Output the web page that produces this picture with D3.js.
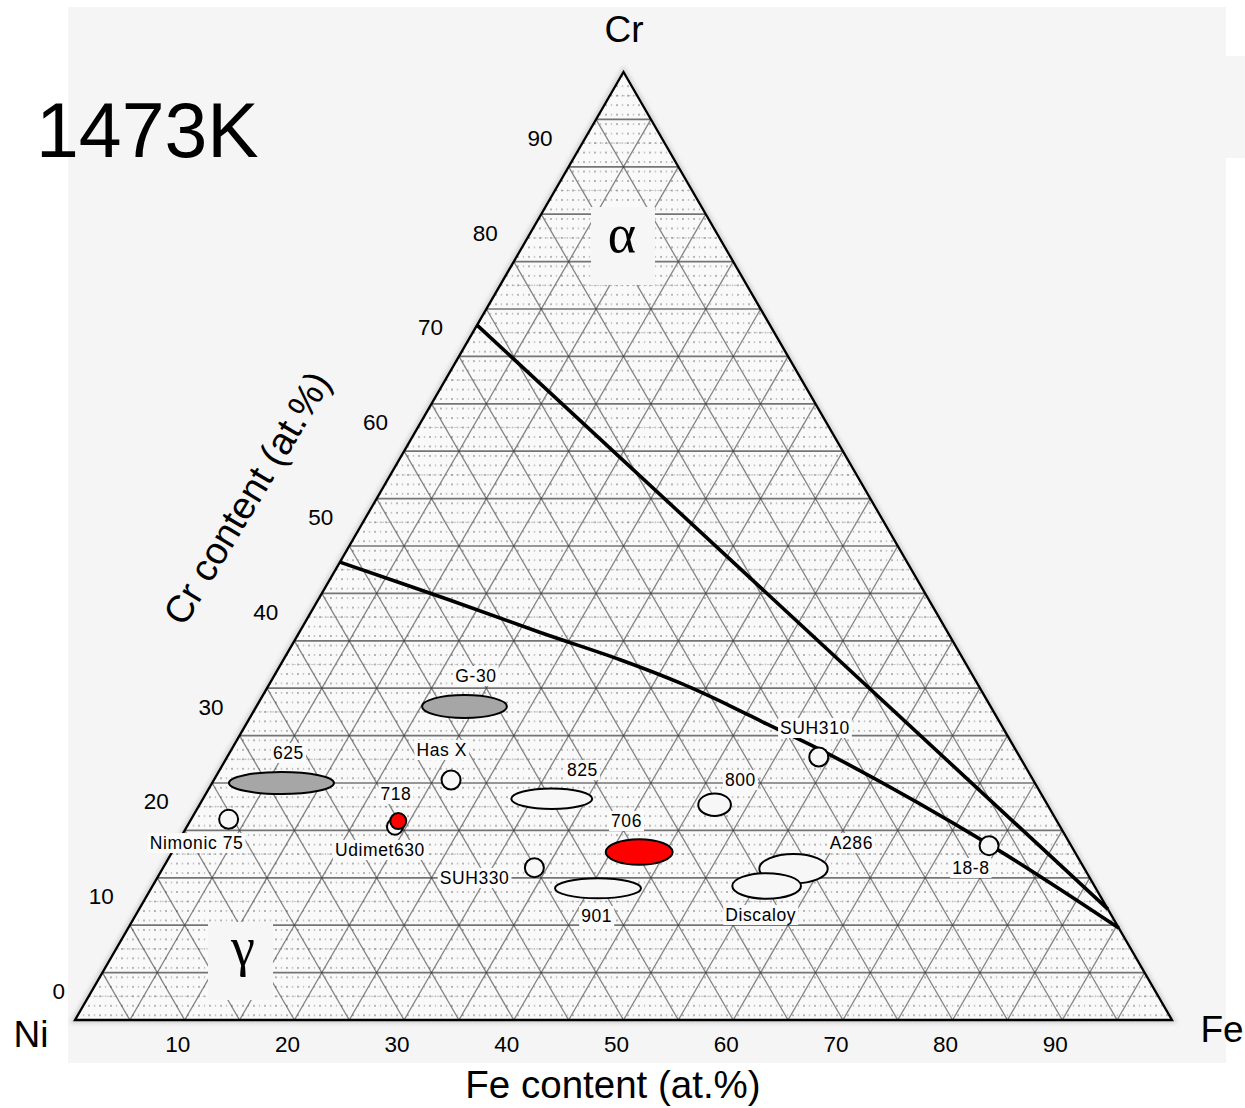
<!DOCTYPE html>
<html>
<head>
<meta charset="utf-8">
<script src="https://cdn.jsdelivr.net/npm/d3@7/dist/d3.min.js"></script>
<style>
  body { margin: 0; background: #ffffff; }
  svg { display: block; font-family: Arial, "Liberation Sans", sans-serif; }
</style>
</head>
<body>
<svg id="chart" width="1245" height="1108"></svg>
<script>
// Ni–Cr–Fe ternary section at 1473 K, compositions in at.%
const feTicks = [10, 20, 30, 40, 50, 60, 70, 80, 90];
const crTicks = [0, 10, 20, 30, 40, 50, 60, 70, 80, 90];

// Phase boundaries as [Fe, Cr] pairs
const alphaBoundary = [[0, 73.3], [88.3, 11.7]];
const gammaBoundary = [[0, 48.3], [12.0, 44.3], [21.9, 40.9], [30.7, 38.0], [37.5, 35.5],
                       [43.0, 33.2], [47.5, 31.2], [54.8, 28.0], [74.1, 18.5], [90.3, 9.7]];

// Alloys given as a composition range: centre and half-width in Fe and Cr
const rangeNames = ["G-30", "625", "825", "706", "901", "800", "A286", "Discaloy"];
const rangeFe    = [18.97, 6.32, 31.79, 42.57, 40.73, 46.95, 57.52, 55.98];
const rangeCr    = [33.07, 25.00, 23.34, 17.72, 13.89, 22.71, 15.96, 14.14];
const rangeDFe   = [3.87, 4.79, 3.69, 3.05, 3.92, 1.49, 3.12, 3.13];
const rangeDCr   = [1.21, 1.16, 1.09, 1.35, 1.05, 1.19, 1.55, 1.35];
const rangeGroup = ["shaded", "shaded", "plain", "highlight", "plain", "plain", "plain", "plain"];

// Alloys given as a single composition
const pointNames = ["Has X", "Nimonic 75", "Udimet630", "718", "SUH330", "SUH310", "18-8"];
const pointFe    = [21.62, 3.42, 18.97, 18.97, 33.84, 53.93, 74.13];
const pointCr    = [25.32, 21.17, 20.39, 20.99, 16.07, 27.74, 18.39];
const pointGroup = ["plain", "plain", "plain", "highlight", "plain", "plain", "plain"];

const svg = d3.select("#chart");

const fillOf = d3.scaleOrdinal()
  .domain(["plain", "shaded", "highlight"])
  .range(["#f7f7f7", "#a6a6a6", "#ff0000"]);

// Ternary projection: Fe along the base, Cr towards the apex, Ni at the left corner
const xS = d3.scaleLinear().domain([0, 100]).range([75, 1172]);
const yS = d3.scaleLinear().domain([0, 100]).range([1020, 72]);
const px = (fe, cr) => xS(fe + cr / 2);
const py = (cr) => yS(cr);

// Page background panels
svg.append("rect").attr("x", 68).attr("y", 7).attr("width", 1158).attr("height", 1056).attr("fill", "#f5f5f5");
svg.append("rect").attr("x", 1226).attr("y", 56).attr("width", 19).attr("height", 102).attr("fill", "#f5f5f5");

const defs = svg.append("defs");
defs.append("filter").attr("id", "soft").attr("x", "-5%").attr("y", "-5%").attr("width", "110%").attr("height", "110%")
  .append("feGaussianBlur").attr("stdDeviation", 0.75);
defs.append("filter").attr("id", "haze").attr("x", "-5%").attr("y", "-5%").attr("width", "110%").attr("height", "110%")
  .append("feGaussianBlur").attr("stdDeviation", 2.2);

const dots = defs.append("pattern").attr("id", "dots")
  .attr("patternUnits", "userSpaceOnUse").attr("width", 11).attr("height", 9.48)
  .attr("x", 75).attr("y", 72);
dots.append("circle").attr("cx", 3).attr("cy", 4.7).attr("r", 1).attr("fill", "#9c9c9c");
dots.append("circle").attr("cx", 8.5).attr("cy", 4.7).attr("r", 0.8).attr("fill", "#b8b8b8");

const corners = [[0, 0], [100, 0], [0, 100]].map(([fe, cr]) => [px(fe, cr), py(cr)]);
const triPath = "M" + corners.map(c => c.join(",")).join("L") + "Z";

defs.append("clipPath").attr("id", "tri").append("path").attr("d", triPath);

// Soft fringe around the grid plate
svg.append("path").attr("d", triPath).attr("fill", "none").attr("stroke", "#cfcfcf")
  .attr("stroke-width", 6).attr("filter", "url(#haze)");

// Triangle face and texture
svg.append("path").attr("d", triPath).attr("fill", "#f9f9f9");
const gridG = svg.append("g").attr("filter", "url(#soft)");
gridG.append("path").attr("d", triPath).attr("fill", "url(#dots)");

// 5 % triangular grid
const gridLines = [];
for (let v = 5; v < 100; v += 5) {
  gridLines.push({ a: [0, v], b: [100 - v, v], horiz: true });
  gridLines.push({ a: [v, 0], b: [v, 100 - v] });
  gridLines.push({ a: [100 - v, 0], b: [0, 100 - v] });
}
gridG.append("g").attr("clip-path", "url(#tri)")
  .selectAll("line").data(gridLines).join("line")
  .attr("x1", d => px(d.a[0], d.a[1])).attr("y1", d => py(d.a[1]))
  .attr("x2", d => px(d.b[0], d.b[1])).attr("y2", d => py(d.b[1]))
  .attr("stroke", "#3c3c3c")
  .attr("stroke-opacity", d => d.horiz ? 0.7 : 0.62)
  .attr("stroke-width", d => d.horiz ? 1.7 : 1.3);

// Extra faint horizontal rows between grid lines
const subRows = [];
for (let v = 2.5; v < 100; v += 5) subRows.push(v);
gridG.append("g").attr("clip-path", "url(#tri)")
  .selectAll("line").data(subRows).join("line")
  .attr("x1", v => px(0, v)).attr("y1", v => py(v))
  .attr("x2", v => px(100 - v, v)).attr("y2", v => py(v))
  .attr("stroke", "#8a8a8a").attr("stroke-opacity", 0.4)
  .attr("stroke-width", 1.2).attr("stroke-dasharray", "3,3");

// Triangle outline
svg.append("path").attr("d", triPath).attr("fill", "none")
  .attr("stroke", "#000").attr("stroke-width", 2.3).attr("stroke-linejoin", "miter");

// Phase boundaries
const boundary = d3.line().x(d => px(d[0], d[1])).y(d => py(d[1])).curve(d3.curveCatmullRom.alpha(0.5));
svg.append("path").attr("d", boundary(alphaBoundary)).attr("fill", "none")
  .attr("stroke", "#000").attr("stroke-width", 3.6);
svg.append("path").attr("d", boundary(gammaBoundary)).attr("fill", "none")
  .attr("stroke", "#000").attr("stroke-width", 3.6);

// Alloy composition ranges
const ranges = rangeNames.map((name, i) => ({
  name, fe: rangeFe[i], cr: rangeCr[i], dFe: rangeDFe[i], dCr: rangeDCr[i], group: rangeGroup[i]
}));
const points = pointNames.map((name, i) => ({
  name, fe: pointFe[i], cr: pointCr[i], group: pointGroup[i]
}));

const markG = svg.append("g");
markG.selectAll("ellipse").data(ranges).join("ellipse")
  .attr("cx", d => px(d.fe, d.cr)).attr("cy", d => py(d.cr))
  .attr("rx", d => xS(d.dFe) - xS(0)).attr("ry", d => yS(0) - yS(d.dCr))
  .attr("fill", d => fillOf(d.group))
  .attr("stroke", "#000").attr("stroke-width", 2);

const smallMarks = new Set(["Udimet630", "718"]);
markG.selectAll("circle").data(points).join("circle")
  .attr("cx", d => px(d.fe, d.cr)).attr("cy", d => py(d.cr))
  .attr("r", d => smallMarks.has(d.name) ? 8 : 9.5)
  .attr("fill", d => fillOf(d.group))
  .attr("stroke", "#000").attr("stroke-width", 2);

// Alloy labels: offset (label centre x, baseline y) from the marker centre
const labelShift = {
  "G-30": [11.5, -24.5], "625": [7, -24], "825": [30.7, -22.7], "706": [-12.7, -25],
  "901": [-1.3, 33.7], "800": [25.8, -18.7], "A286": [57.8, -19.7], "Discaloy": [-5.9, 35],
  "Has X": [-9.3, -24], "Nimonic 75": [-32, 29.7], "Udimet630": [-15, 29.3], "718": [-2.3, -21],
  "SUH330": [-59.8, 16.3], "SUH310": [-3.8, -23], "18-8": [-18.2, 28.3]
};
const labelG = svg.append("g");
[...ranges, ...points].forEach(d => {
  const [dx, dy] = labelShift[d.name];
  const g = labelG.append("g");
  const t = g.append("text")
    .attr("x", px(d.fe, d.cr) + dx).attr("y", py(d.cr) + dy)
    .attr("text-anchor", "middle").attr("font-size", 17.5)
    .attr("letter-spacing", 0.6).attr("fill", "#000")
    .text(d.name);
  const b = t.node().getBBox();
  g.insert("rect", "text").attr("x", b.x - 2).attr("y", b.y).attr("width", b.width + 4)
    .attr("height", b.height).attr("fill", "#fbfbfb");
});

// Phase field labels
function phaseLabel(x0, y0, w, h, glyph, cx, cy) {
  svg.append("rect").attr("x", x0).attr("y", y0).attr("width", w).attr("height", h).attr("fill", "#f6f6f6");
  svg.append("text").attr("x", cx).attr("y", cy).attr("text-anchor", "middle")
    .attr("font-family", "'Liberation Serif', 'DejaVu Serif', serif").attr("font-size", 54)
    .attr("fill", "#000").text(glyph);
}
phaseLabel(591, 207, 64, 78, "α", 622, 252);
phaseLabel(208, 922, 65, 78, "γ", 243, 965);

// Cr tick labels along the left edge
svg.append("g").selectAll("text").data(crTicks).join("text")
  .attr("x", c => px(0, c) - (c === 0 ? 10 : 16)).attr("y", c => py(c) - 21)
  .attr("text-anchor", "end").attr("font-size", 22.5).attr("fill", "#000")
  .text(c => c);

// Fe tick labels along the base
svg.append("g").selectAll("text").data(feTicks).join("text")
  .attr("x", f => px(f, 0) - 7).attr("y", 1052)
  .attr("text-anchor", "middle").attr("font-size", 22.5).attr("fill", "#000")
  .text(f => f);

// Corner and axis titles
svg.append("text").attr("x", 624).attr("y", 42).attr("text-anchor", "middle").attr("font-size", 37).text("Cr");
svg.append("text").attr("x", 31).attr("y", 1047).attr("text-anchor", "middle").attr("font-size", 37).text("Ni");
svg.append("text").attr("x", 1222).attr("y", 1042).attr("text-anchor", "middle").attr("font-size", 37).text("Fe");
svg.append("text").attr("x", 613).attr("y", 1098).attr("text-anchor", "middle").attr("font-size", 38.5).text("Fe content (at.%)");
svg.append("text").attr("transform", "translate(247,498) rotate(-59)")
  .attr("text-anchor", "middle").attr("dominant-baseline", "central").attr("font-size", 38)
  .text("Cr content (at.%)");
svg.append("text").attr("x", 36).attr("y", 157).attr("font-size", 77).text("1473K");
</script>
</body>
</html>
